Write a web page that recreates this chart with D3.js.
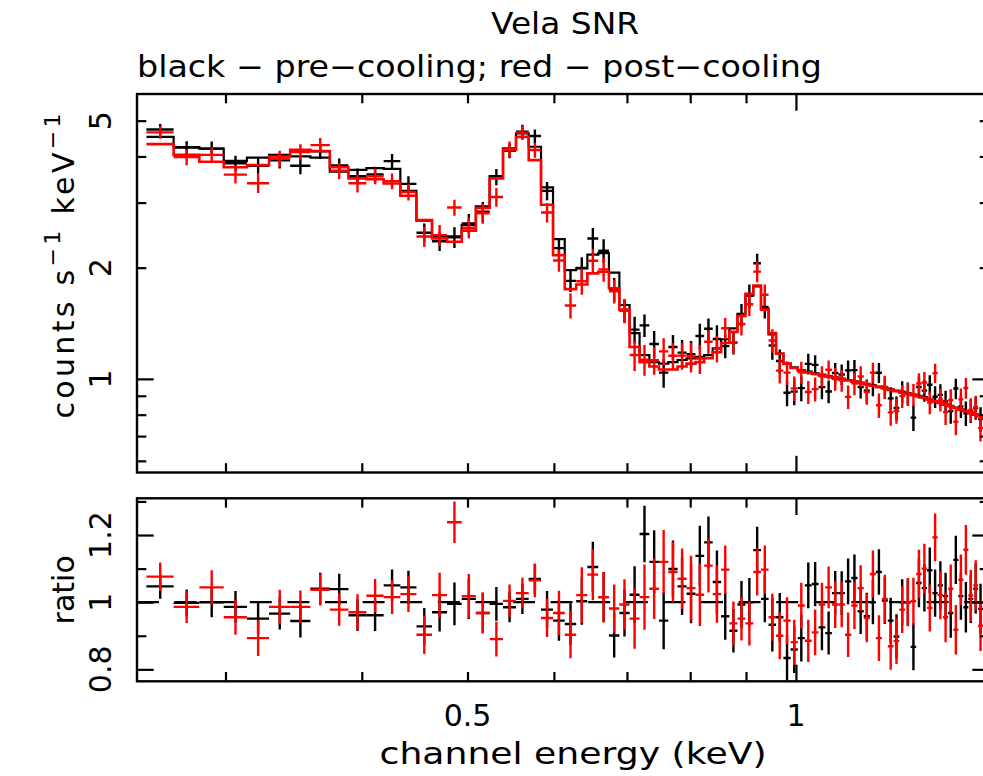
<!DOCTYPE html>
<html><head><meta charset="utf-8">
<script src="https://cdn.jsdelivr.net/npm/d3@7"></script>
<style>
body{margin:0;background:#fff;}
svg{display:block;}
text{font-family:"DejaVu Sans",sans-serif;fill:#000;}
</style>
</head><body>
<svg id="chart" width="983" height="776"></svg>
<script>
// ---------------- data ----------------
const energy = [
0.2614,0.2764,0.2914,0.3064,0.3214,0.3364,0.3514,0.3664,0.3814,0.3964,
0.4114,0.4264,0.4414,0.4564,0.4714,0.4864,0.5014,0.5164,0.5314,0.5464,
0.5614,0.5764,0.5914,0.6064,0.6214,0.6364,0.6514,0.6664,0.6814,0.6964,
0.7114,0.7264,0.7414,0.7564,0.7714,0.7864,0.8014,0.8164,0.8314,0.8464,
0.8614,0.8764,0.8914,0.9064,0.9214,0.9364,0.9514,0.9664,0.9814,0.9964,
1.0114,1.0264,1.0414,1.0564,1.0714,1.0864,1.1014,1.1164,1.1314,1.1464,
1.1614,1.1764,1.1914,1.2064,1.2214,1.2364,1.2514,1.2664,1.2814,1.2964,
1.3114,1.3264,1.3414,1.3564,1.3714,1.3864,1.4014,1.4164,1.4314,1.4464,
1.4614,1.4764,1.4914];
const halfBin = 0.0075;

const modelBlack = [
4.52,4.24,4.20,3.89,3.97,4.04,4.00,3.97,3.64,3.68,
3.72,3.70,3.23,2.68,2.43,2.43,2.61,2.93,3.54,4.21,
4.62,4.25,3.30,2.39,1.97,1.99,2.17,2.19,1.94,1.585,
1.33,1.16,1.11,1.10,1.11,1.125,1.137,1.148,1.16,1.21,
1.28,1.37,1.50,1.68,1.78,1.55,1.32,1.17,1.10,1.075,
1.057,1.046,1.035,1.027,1.018,1.010,1.001,0.993,0.985,0.977,
0.969,0.961,0.953,0.945,0.937,0.929,0.922,0.914,0.906,0.899,
0.892,0.880,0.871,0.862,0.853,0.845,0.836,0.827,0.819,0.810,
0.802,0.794,0.786];

const modelRed = [
4.32,4.04,3.87,3.74,3.79,4.00,4.17,4.14,3.74,3.49,
3.47,3.38,3.13,2.69,2.40,2.35,2.52,2.90,3.49,4.17,
4.52,3.91,2.96,2.16,1.75,1.80,1.93,1.95,1.76,1.54,
1.22,1.11,1.08,1.06,1.06,1.08,1.10,1.11,1.137,1.18,
1.25,1.34,1.48,1.70,1.79,1.54,1.33,1.17,1.10,1.07,
1.052,1.041,1.031,1.023,1.014,1.006,0.998,0.990,0.982,0.974,
0.966,0.958,0.950,0.942,0.934,0.926,0.918,0.910,0.903,0.896,
0.889,0.878,0.869,0.860,0.851,0.843,0.834,0.825,0.817,0.808,
0.800,0.792,0.784];

const ratioBlack = [
1.047,0.998,1.000,0.986,0.951,0.966,0.944,1.040,1.039,0.961,
0.961,1.050,1.044,0.928,0.970,0.995,1.010,0.968,0.995,0.985,
1.010,1.069,0.978,0.945,0.935,1.003,1.105,1.015,0.901,0.968,
1.022,1.203,1.120,0.945,1.099,1.047,1.025,1.138,1.178,1.060,
0.958,0.915,0.993,1.000,1.155,1.010,0.933,0.955,0.834,0.859,
0.893,1.050,1.054,0.925,0.908,1.027,1.027,1.062,1.072,0.973,
0.958,1.000,1.090,1.005,0.945,0.898,1.000,1.000,0.867,1.057,
1.042,1.095,1.027,1.050,1.018,0.968,1.126,1.018,0.985,1.010,
1.040,0.980,0.990];
const ratioBlackErr = [
0.037,0.040,0.045,0.047,0.047,0.047,0.049,0.048,0.046,0.047,
0.047,0.047,0.050,0.055,0.057,0.064,0.060,0.060,0.050,0.045,
0.045,0.045,0.055,0.060,0.062,0.070,0.075,0.075,0.066,0.070,
0.085,0.084,0.094,0.085,0.085,0.085,0.088,0.090,0.077,0.094,
0.070,0.065,0.070,0.072,0.070,0.070,0.080,0.072,0.068,0.070,
0.070,0.068,0.066,0.068,0.064,0.066,0.065,0.068,0.070,0.068,
0.070,0.066,0.068,0.070,0.068,0.066,0.068,0.070,0.070,0.072,
0.070,0.068,0.070,0.072,0.070,0.074,0.072,0.070,0.075,0.072,
0.074,0.075,0.075];

const ratioRed = [
1.076,0.986,1.044,0.955,0.893,0.986,0.986,1.037,0.978,0.970,
1.019,1.015,1.024,0.903,1.021,1.238,1.018,0.968,0.890,1.004,
1.027,1.065,0.953,0.968,0.903,1.021,1.082,1.015,0.981,0.993,
0.951,1.015,1.040,1.120,1.090,1.070,1.042,1.022,1.109,1.024,
1.097,0.937,0.951,0.937,1.090,1.097,0.955,0.900,0.945,0.881,
0.990,0.885,0.910,0.993,1.044,0.993,0.993,0.903,0.990,1.042,
0.953,1.084,0.893,1.010,0.869,0.884,0.978,1.000,1.003,1.084,
1.100,0.983,1.193,1.021,0.955,1.040,0.918,1.067,1.156,1.020,
1.050,0.930,0.950];
const ratioRedErr = [
0.042,0.048,0.051,0.052,0.053,0.051,0.049,0.047,0.048,0.054,
0.050,0.050,0.053,0.057,0.067,0.062,0.066,0.061,0.052,0.049,
0.046,0.050,0.057,0.066,0.070,0.083,0.076,0.075,0.072,0.075,
0.090,0.097,0.090,0.095,0.090,0.090,0.096,0.093,0.080,0.085,
0.072,0.065,0.065,0.066,0.070,0.072,0.070,0.070,0.070,0.067,
0.068,0.063,0.068,0.065,0.062,0.070,0.068,0.066,0.070,0.068,
0.072,0.070,0.068,0.072,0.070,0.068,0.070,0.072,0.070,0.072,
0.074,0.070,0.071,0.072,0.074,0.072,0.074,0.075,0.074,0.076,
0.075,0.075,0.075];

const energyTicks = [0.3,0.4,0.5,0.6,0.7,0.8,0.9,1];
const energyMajor = [1];
const energyLabels = [0.5, 1];
const countTicks = [0.6,0.7,0.8,0.9,1,2,3,4,5];
const countMajor = [1];
const countLabels = [5, 2, 1];
const ratioTicks = [0.8,0.9,1.0,1.1,1.2,1.3];
const ratioMajor = [0.8,1.0,1.2];
const ratioLabels = [1.2, 1, 0.8];

const titleText = "Vela SNR";
const subtitleText = "black \u2212 pre\u2212cooling; red \u2212 post\u2212cooling";
const xLabelText = "channel energy (keV)";
const ratioLabelText = "ratio";

// ---------------- layout ----------------
const L = 137, R = 989;
const topT = 94, topB = 472.5, botT = 498.3, botB = 681.3;
const minorLen = 9.3, majorLen = 16.7;
const FS = 30;
const DW = 2.4;

const svg = d3.select("#chart");
const x = d3.scaleLog().domain([0.2489, 1.503]).range([L, R]);
const yC = d3.scaleLog().domain([0.5579, 5.904]).range([topB, topT]);
const yR = d3.scaleLinear().domain([0.7644, 1.3094]).range([botB, botT]);

const defs = svg.append("defs");
defs.append("clipPath").attr("id","clipTop").append("rect")
  .attr("x",L).attr("y",topT).attr("width",R-L).attr("height",topB-topT);
defs.append("clipPath").attr("id","clipBot").append("rect")
  .attr("x",L).attr("y",botT).attr("width",R-L).attr("height",botB-botT);

function rows(model, ratio, err){
  return energy.map((e,i)=>({e, lo:e-halfBin, hi:e+halfBin, m:model[i], r:ratio[i], re:err[i],
    c: ratio[i]*model[i], ce: err[i]*model[i]}));
}
const black = rows(modelBlack, ratioBlack, ratioBlackErr);
const red = rows(modelRed, ratioRed, ratioRedErr);

const gTop = svg.append("g").attr("clip-path","url(#clipTop)");
const gBot = svg.append("g").attr("clip-path","url(#clipBot)");

function crosses(g, data, yScale, valKey, errKey, color){
  const gg = g.append("g").attr("stroke", color).attr("stroke-width", DW).attr("fill","none");
  gg.selectAll("line.h").data(data).join("line").attr("class","h")
    .attr("x1", d=>x(d.lo)).attr("x2", d=>x(d.hi))
    .attr("y1", d=>yScale(d[valKey])).attr("y2", d=>yScale(d[valKey]));
  gg.selectAll("line.v").data(data).join("line").attr("class","v")
    .attr("x1", d=>x(d.e)).attr("x2", d=>x(d.e))
    .attr("y1", d=>yScale(d[valKey]-d[errKey])).attr("y2", d=>yScale(d[valKey]+d[errKey]));
}
function modelStep(g, data, color, w){
  const pts = [];
  data.forEach(d=>{ pts.push([d.lo, d.m]); pts.push([d.hi, d.m]); });
  g.append("path").attr("d", d3.line().x(p=>x(p[0])).y(p=>yC(p[1]))(pts))
    .attr("fill","none").attr("stroke",color).attr("stroke-width",w).attr("stroke-linejoin","miter");
}

// top panel
crosses(gTop, black, yC, "c", "ce", "#000");
modelStep(gTop, black, "#000", 2.2);
crosses(gTop, red, yC, "c", "ce", "#ff0000");
modelStep(gTop, red, "#ff0000", 2.6);

// ratio panel
gBot.append("line").attr("x1",L).attr("x2",R).attr("y1",yR(1)).attr("y2",yR(1))
  .attr("stroke","#000").attr("stroke-width",2.2).attr("stroke-dasharray","22,15.6");
crosses(gBot, black, yR, "r", "re", "#000");
crosses(gBot, red, yR, "r", "re", "#ff0000");

// ---------------- axes / ticks ----------------
function ticks(axisFn, scale, values, len, tx, ty){
  const g = svg.append("g").attr("transform",`translate(${tx},${ty})`)
    .call(axisFn(scale).tickValues(values).tickSize(-len).tickFormat(""));
  g.select(".domain").remove();
  g.selectAll(".tick line").attr("stroke","#000").attr("stroke-width",2.2);
}
const eMinor = energyTicks.filter(v=>!energyMajor.includes(v));
const cMinor = countTicks.filter(v=>!countMajor.includes(v));
const rMinor = ratioTicks.filter(v=>!ratioMajor.includes(v));
[[topT,topB],[botT,botB]].forEach(([t,b])=>{
  ticks(d3.axisTop, x, eMinor, minorLen, 0, t);
  ticks(d3.axisTop, x, energyMajor, majorLen, 0, t);
  ticks(d3.axisBottom, x, eMinor, minorLen, 0, b);
  ticks(d3.axisBottom, x, energyMajor, majorLen, 0, b);
});
ticks(d3.axisLeft, yC, cMinor, minorLen, L, 0);
ticks(d3.axisLeft, yC, countMajor, majorLen, L, 0);
ticks(d3.axisRight, yC, cMinor, minorLen, R, 0);
ticks(d3.axisRight, yC, countMajor, majorLen, R, 0);
ticks(d3.axisLeft, yR, rMinor, minorLen, L, 0);
ticks(d3.axisLeft, yR, ratioMajor, majorLen, L, 0);
ticks(d3.axisRight, yR, rMinor, minorLen, R, 0);
ticks(d3.axisRight, yR, ratioMajor, majorLen, R, 0);

// frames
[[topT,topB],[botT,botB]].forEach(([t,b])=>{
  svg.append("rect").attr("x",L).attr("y",t).attr("width",R-L).attr("height",b-t)
    .attr("fill","none").attr("stroke","#000").attr("stroke-width",2.4);
});

// ---------------- text ----------------
svg.append("text").attr("x",565).attr("y",34).attr("text-anchor","middle")
  .attr("font-size",FS).attr("textLength",148).attr("lengthAdjust","spacingAndGlyphs").text(titleText);
svg.append("text").attr("x",L).attr("y",77).attr("text-anchor","start")
  .attr("font-size",FS).attr("textLength",685).attr("lengthAdjust","spacingAndGlyphs").text(subtitleText);

energyLabels.forEach(v=>{
  svg.append("text").attr("x",x(v)).attr("y",726).attr("text-anchor","middle")
    .attr("font-size",FS).text(String(v));
});
svg.append("text").attr("x",573).attr("y",764).attr("text-anchor","middle")
  .attr("font-size",FS).attr("textLength",387).attr("lengthAdjust","spacingAndGlyphs").text(xLabelText);

countLabels.forEach(v=>{
  svg.append("text").attr("transform",`translate(111,${yC(v)}) rotate(-90)`)
    .attr("text-anchor","middle").attr("font-size",FS).text(String(v));
});
ratioLabels.forEach(v=>{
  svg.append("text").attr("transform",`translate(111,${yR(v)}) rotate(-90)`)
    .attr("text-anchor","middle").attr("font-size",FS).text(String(v));
});

const yl = svg.append("text").attr("transform","translate(74,266) rotate(-90)")
  .attr("text-anchor","middle").attr("font-size",FS)
  .attr("textLength",305).attr("lengthAdjust","spacing");
yl.append("tspan").text("counts  s");
yl.append("tspan").attr("dy",-14).attr("font-size",22).text("\u22121");
yl.append("tspan").attr("dy",14).text("  keV");
yl.append("tspan").attr("dy",-14).attr("font-size",22).text("\u22121");

svg.append("text").attr("transform",`translate(74,${(botT+botB)/2}) rotate(-90)`)
  .attr("text-anchor","middle").attr("font-size",FS).text(ratioLabelText);
</script>
</body></html>
